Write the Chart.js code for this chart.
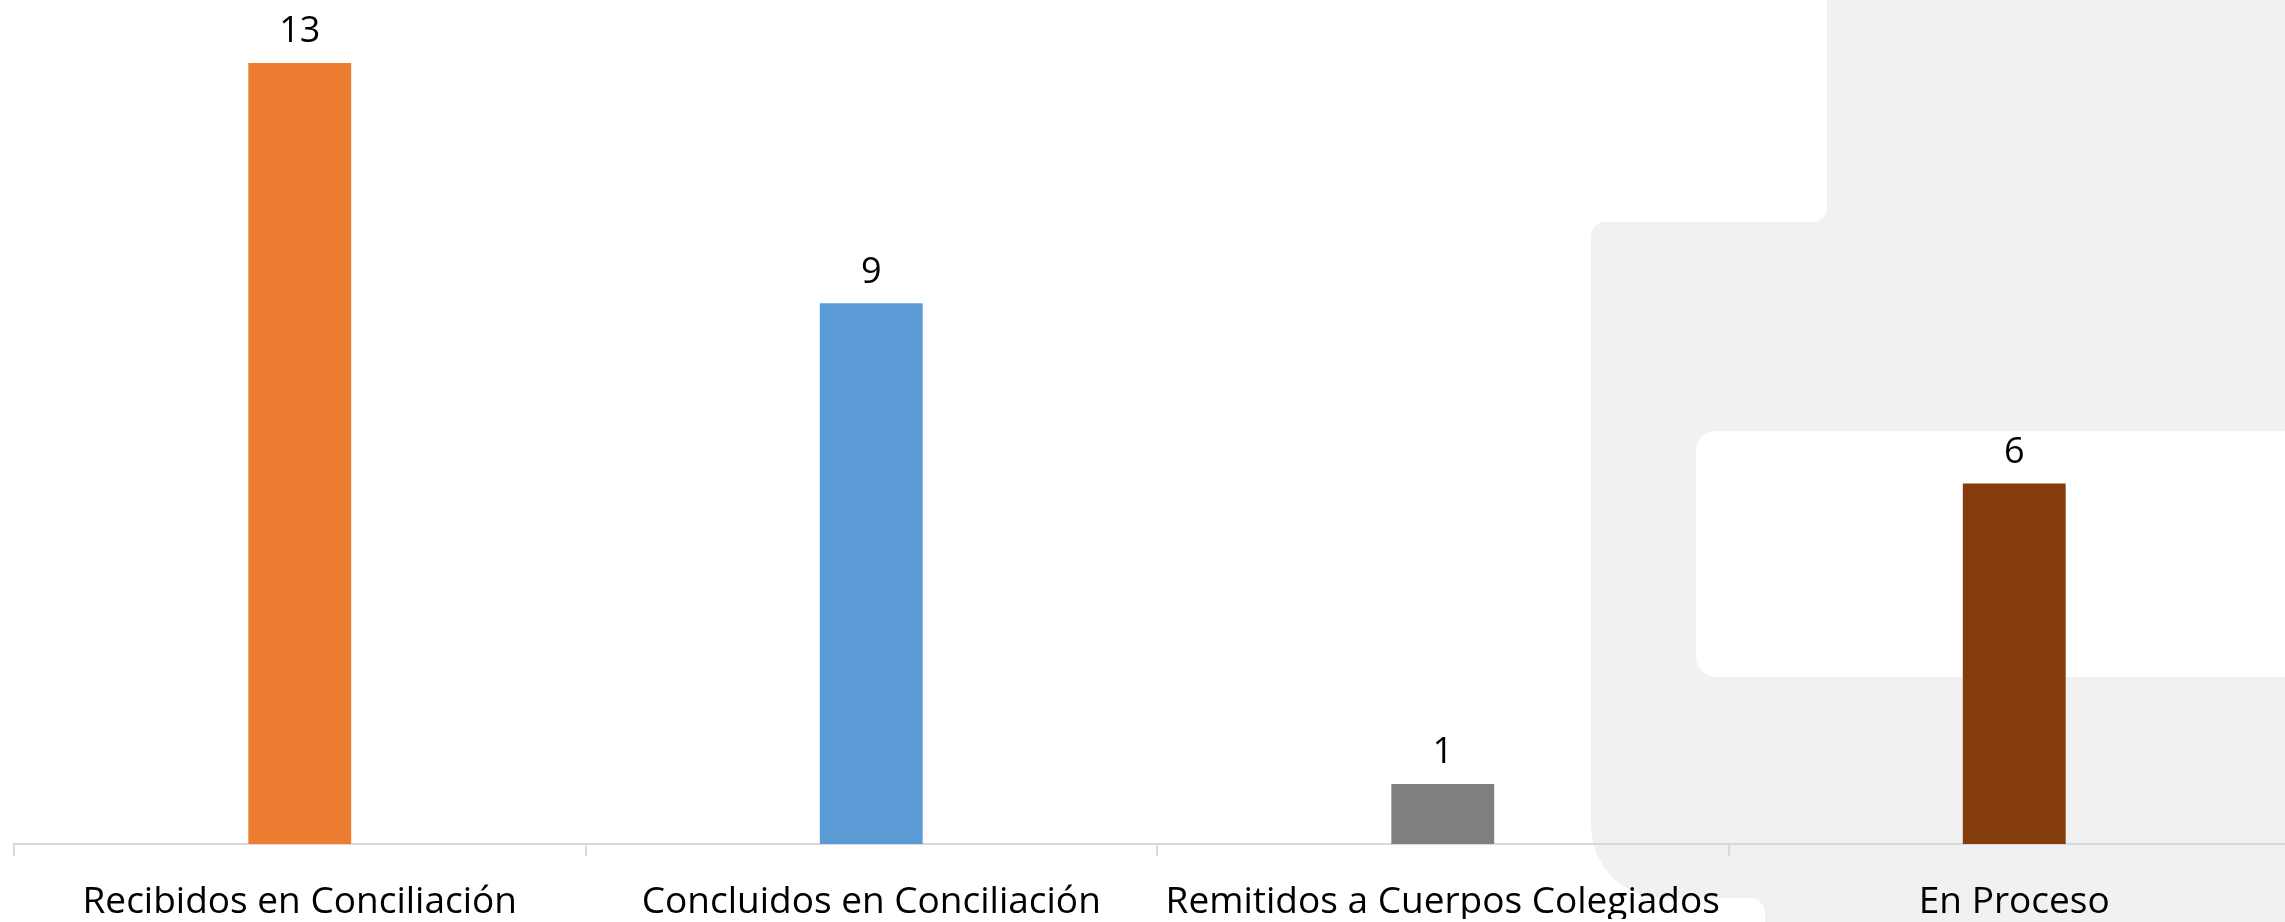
<!DOCTYPE html>
<html>
<head>
<meta charset="utf-8">
<script src="https://cdn.jsdelivr.net/npm/chart.js@4.4.0/dist/chart.umd.min.js"></script>
<style>
  html, body { margin: 0; padding: 0; background: #fff; overflow: hidden; }
  #wrap { width: 2300px; height: 922px; }
</style>
</head>
<body>
<div id="wrap"><canvas id="casosChart"></canvas></div>
<script>
// Datos del gráfico
const categorias = ["Recibidos en Conciliación", "Concluidos en Conciliación", "Remitidos a Cuerpos Colegiados", "En Proceso"];
const valores = [13, 9, 1, 6];
const colores = ["#ED7D31", "#5B9BD5", "#7F7F7F", "#843C0C"];

// Fondo gris decorativo (marca de agua)
const fondo = {
    id: 'fondo',
    beforeDraw(chart) {
        const c = chart.ctx;
        c.save();
        c.fillStyle = '#f0f1f0';
        c.beginPath();
        c.moveTo(1827, 0);
        c.lineTo(2300, 0);
        c.lineTo(2300, 922);
        c.lineTo(1765, 922);
        c.lineTo(1765, 913);
        c.arcTo(1765, 898, 1750, 898, 15);
        c.lineTo(1663, 898);
        c.arcTo(1591, 898, 1591, 826, 72);
        c.lineTo(1591, 236);
        c.arcTo(1591, 222, 1605, 222, 14);
        c.lineTo(1813, 222);
        c.arcTo(1827, 222, 1827, 208, 14);
        c.closePath();
        c.fill();
        // rectángulo blanco interior
        c.fillStyle = '#ffffff';
        c.beginPath();
        c.moveTo(1716, 431);
        c.lineTo(2300, 431);
        c.lineTo(2300, 677);
        c.lineTo(1716, 677);
        c.arcTo(1696, 677, 1696, 657, 20);
        c.lineTo(1696, 451);
        c.arcTo(1696, 431, 1716, 431, 20);
        c.closePath();
        c.fill();
        c.restore();
    }
};

// Etiquetas de valor sobre cada barra
const etiquetas = {
    id: 'etiquetas',
    afterDatasetsDraw(chart) {
        const c = chart.ctx;
        c.save();
        c.font = '36px "Open Sans"';
        c.fillStyle = '#000';
        c.textAlign = 'center';
        c.textBaseline = 'middle';
        chart.getDatasetMeta(0).data.forEach((bar, i) => {
            c.fillText(String(valores[i]), bar.x, bar.y - 31);
        });
        c.restore();
    }
};

const ctx = document.getElementById('casosChart').getContext('2d');
new Chart(ctx, {
    type: 'bar',
    data: {
        labels: categorias,
        datasets: [{
            data: valores,
            backgroundColor: colores,
            borderWidth: 0,
            barPercentage: 0.18,
            categoryPercentage: 1
        }]
    },
    options: {
        responsive: true,
        maintainAspectRatio: false,
        animation: false,
        layout: { padding: { top: 3, left: 14, right: 0, bottom: 3 } },
        plugins: {
            legend: { display: false },
            tooltip: { enabled: false }
        },
        scales: {
            y: {
                display: false,
                min: 0,
                max: 14
            },
            x: {
                afterFit: (scale) => { scale.height = 75; },
                grid: {
                    display: true,
                    drawOnChartArea: false,
                    drawTicks: true,
                    tickLength: 12,
                    color: '#d9d9d9',
                    lineWidth: 2
                },
                border: { color: '#d9d9d9', width: 2 },
                ticks: {
                    color: '#000',
                    padding: 24,
                    maxRotation: 0,
                    font: { family: 'Open Sans', size: 37 }
                }
            }
        }
    },
    plugins: [fondo, etiquetas]
});
</script>
</body>
</html>
